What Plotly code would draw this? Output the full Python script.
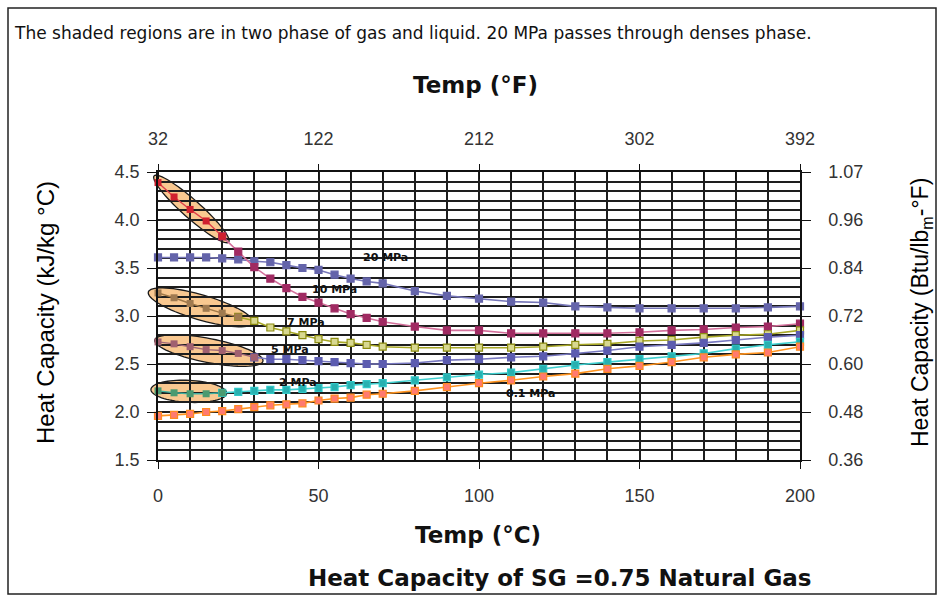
import math
import plotly.graph_objects as go

# ---------------- data ----------------
temp_c = [0, 5, 10, 15, 20, 25, 30, 35, 40, 45, 50, 55, 60, 65, 70,
          80, 90, 100, 110, 120, 130, 140, 150, 160, 170, 180, 190, 200]

cp_20mpa = [3.61, 3.61, 3.61, 3.61, 3.60, 3.59, 3.57, 3.56, 3.53, 3.50, 3.48, 3.43, 3.39, 3.36, 3.34,
            3.26, 3.21, 3.18, 3.15, 3.14, 3.10, 3.09, 3.08, 3.08, 3.08, 3.08, 3.09, 3.10]
cp_10mpa = [4.39, 4.24, 4.11, 3.99, 3.83, 3.67, 3.51, 3.39, 3.29, 3.20, 3.14, 3.08, 3.02, 2.98, 2.94,
            2.89, 2.85, 2.85, 2.82, 2.82, 2.82, 2.82, 2.83, 2.85, 2.86, 2.88, 2.89, 2.92]
cp_7mpa = [3.24, 3.19, 3.13, 3.08, 3.03, 2.99, 2.95, 2.88, 2.84, 2.80, 2.76, 2.73, 2.72, 2.70, 2.68,
           2.67, 2.67, 2.67, 2.67, 2.68, 2.70, 2.71, 2.74, 2.75, 2.78, 2.80, 2.81, 2.85]
cp_5mpa = [2.73, 2.71, 2.68, 2.65, 2.64, 2.61, 2.57, 2.55, 2.55, 2.54, 2.53, 2.52, 2.51, 2.50, 2.50,
           2.51, 2.54, 2.55, 2.57, 2.58, 2.61, 2.64, 2.68, 2.70, 2.72, 2.75, 2.78, 2.80]
cp_2mpa = [2.22, 2.20, 2.19, 2.19, 2.20, 2.21, 2.22, 2.23, 2.23, 2.24, 2.25, 2.26, 2.28, 2.29, 2.30,
           2.33, 2.36, 2.39, 2.41, 2.45, 2.49, 2.52, 2.55, 2.58, 2.61, 2.66, 2.70, 2.73]
cp_01mpa = [1.96, 1.97, 1.98, 2.00, 2.01, 2.03, 2.05, 2.07, 2.08, 2.09, 2.12, 2.14, 2.15, 2.18, 2.19,
            2.22, 2.26, 2.30, 2.33, 2.37, 2.40, 2.45, 2.48, 2.52, 2.57, 2.60, 2.62, 2.68]

# number of points inside each two-phase (shaded) region
two_phase_n = {"10 MPa": 5, "7 MPa": 6, "5 MPa": 7, "2 MPa": 5}

left_ticks = [1.5, 2.0, 2.5, 3.0, 3.5, 4.0, 4.5]
top_ticks_f = [32, 122, 212, 302, 392]
KJ_TO_BTU = 0.2388

# ---------------- layout geometry ----------------
W, H = 941, 599
PL, PR, PT, PB = 158, 800, 172, 460
XR = (0, 200)
YR = (1.5, 4.5)


def paper_x(px):
    return (px - PL) / (PR - PL)


def paper_y(py):
    return (PB - py) / (PB - PT)


def d2px(t, v):
    return (PL + (t - XR[0]) / (XR[1] - XR[0]) * (PR - PL),
            PB - (v - YR[0]) / (YR[1] - YR[0]) * (PB - PT))


def ellipse_path(p1, p2, half_w, n=72):
    x1, y1 = d2px(*p1)
    x2, y2 = d2px(*p2)
    cx, cy = (x1 + x2) / 2, (y1 + y2) / 2
    a = math.hypot(x2 - x1, y2 - y1) / 2
    ux, uy = (x2 - x1) / (2 * a), (y2 - y1) / (2 * a)
    nx, ny = -uy, ux
    pts = []
    for i in range(n):
        th = 2 * math.pi * i / n
        px = cx + a * math.cos(th) * ux + half_w * math.sin(th) * nx
        py = cy + a * math.cos(th) * uy + half_w * math.sin(th) * ny
        pts.append(f"{paper_x(px):.5f},{paper_y(py):.5f}")
    return "M " + " L ".join(pts) + " Z"


fig = go.Figure()

styles = {
    "20 MPa": dict(y=cp_20mpa, line="#7676b8", mk="#6464aa", mkl="#6464aa"),
    "10 MPa": dict(y=cp_10mpa, line="#d4709c", mk="#a02a62", mkl="#a02a62",
                   tp_line="#e0404a", tp_mk="#d0202e"),
    "7 MPa": dict(y=cp_7mpa, line="#a8a828", mk="#d8d890", mkl="#8c8c10",
                  tp_line="#a07848", tp_mk="#a07a50"),
    "5 MPa": dict(y=cp_5mpa, line="#7878c0", mk="#5c5cb0", mkl="#5c5cb0",
                  tp_line="#a06878", tp_mk="#a06070"),
    "2 MPa": dict(y=cp_2mpa, line="#40d0d0", mk="#28b0b0", mkl="#30c8c8",
                  tp_line="#40b0a0", tp_mk="#4a9a70"),
    "0.1 MPa": dict(y=cp_01mpa, line="#ff9420", mk="#ff7a70", mkl="#ff8a20"),
}

# main curves
for name, s in styles.items():
    k = two_phase_n.get(name, 1) - 1
    fig.add_trace(go.Scatter(
        x=temp_c[k:], y=s["y"][k:], mode="lines+markers", name=name,
        line=dict(color=s["line"], width=1.6),
        marker=dict(symbol="square", size=7, color=s["mk"],
                    line=dict(color=s["mkl"], width=1.2)),
        cliponaxis=False, showlegend=False))

# two-phase portions
for name, n in two_phase_n.items():
    s = styles[name]
    fig.add_trace(go.Scatter(
        x=temp_c[:n], y=s["y"][:n], mode="lines+markers", name=name + " (2-phase)",
        line=dict(color=s["tp_line"], width=1.4),
        marker=dict(symbol="square", size=7, color=s["tp_mk"]),
        cliponaxis=False, showlegend=False))

# invisible trace to carry the secondary axes (°F / Btu)
fig.add_trace(go.Scatter(
    x=[top_ticks_f[0], top_ticks_f[-1]],
    y=[YR[0] * KJ_TO_BTU, YR[1] * KJ_TO_BTU],
    xaxis="x2", yaxis="y2", mode="markers", marker=dict(opacity=0),
    hoverinfo="skip", showlegend=False))

# shaded two-phase ellipses (endpoints in data units, half-thickness in px)
ellipses = [
    ((-1.2, 4.46), (22.0, 3.77), 9.0),
    ((-3.0, 3.25), (29.6, 2.93), 12.5),
    ((-1.0, 2.75), (32.7, 2.53), 12.0),
    ((-2.2, 2.235), (21.4, 2.195), 11.0),
]
for p1, p2, hw in ellipses:
    fig.add_shape(type="path", path=ellipse_path(p1, p2, hw), xref="paper", yref="paper",
                  fillcolor="rgba(248,190,125,0.85)", line=dict(color="#1a1a1a", width=1.3),
                  layer="between")

# outer frame
fig.add_shape(type="rect", xref="paper", yref="paper",
              x0=paper_x(8), x1=paper_x(936), y0=paper_y(594), y1=paper_y(8),
              line=dict(color="#222", width=1.5), fillcolor="rgba(0,0,0,0)", layer="above")

FAM = "Liberation Sans, Arial, sans-serif"
WIDE = "DejaVu Sans, Verdana, sans-serif"
tickfont = dict(family=FAM, size=18, color="#333")

fig.update_layout(
    width=W, height=H,
    margin=dict(l=PL, r=W - PR, t=PT, b=H - PB, pad=0),
    paper_bgcolor="white", plot_bgcolor="white",
    showlegend=False,
    xaxis=dict(range=list(XR), tick0=0, dtick=50, ticks="outside", ticklen=7, tickwidth=1.2,
               tickcolor="#111", showline=True, linecolor="#111", linewidth=1.5,
               showgrid=True, gridcolor="#1e1e1e", gridwidth=2, zeroline=False,
               minor=dict(dtick=10, showgrid=True, gridcolor="#1e1e1e", gridwidth=2),
               tickfont=tickfont, ticklabelstandoff=12),
    yaxis=dict(range=list(YR), tickvals=left_ticks, ticktext=[f"{v:.1f}" for v in left_ticks],
               ticks="outside", ticklen=9, tickwidth=1.2, tickcolor="#111",
               showline=True, linecolor="#111", linewidth=1.5,
               showgrid=True, gridcolor="#1e1e1e", gridwidth=1.5, zeroline=False,
               minor=dict(dtick=0.1, tick0=1.5, showgrid=True, gridcolor="#1e1e1e", gridwidth=1.5),
               tickfont=tickfont, ticklabelstandoff=4),
    xaxis2=dict(overlaying="x", side="top", anchor="y",
                range=[top_ticks_f[0], top_ticks_f[-1]], tickvals=top_ticks_f,
                ticks="outside", ticklen=6, tickwidth=1.2, tickcolor="#111",
                showline=True, linecolor="#111", linewidth=1.5, showgrid=False, zeroline=False,
                minor=dict(tick0=32, dtick=18, ticks="inside", ticklen=7, tickcolor="#111",
                           tickwidth=1.2, showgrid=False),
                tickfont=tickfont, ticklabelstandoff=12),
    yaxis2=dict(overlaying="y", side="right", anchor="x",
                range=[YR[0] * KJ_TO_BTU, YR[1] * KJ_TO_BTU],
                tickvals=[v * KJ_TO_BTU for v in left_ticks],
                ticktext=[f"{v * KJ_TO_BTU:.2f}" for v in left_ticks],
                ticks="outside", ticklen=9, tickwidth=1.2, tickcolor="#111",
                showline=True, linecolor="#111", linewidth=1.5, showgrid=False, zeroline=False,
                tickfont=tickfont, ticklabelstandoff=14),
)

# texts
texts = [
    ("The shaded regions are in two phase of gas and liquid. 20 MPa passes through denses phase.",
     12, 33, "left", dict(family=WIDE, size=17, color="#111"), 0),
    ("<b>Temp (°F)</b>", 475, 85, "center", dict(family=WIDE, size=23, color="#111"), 0),
    ("<b>Temp (°C)</b>", 478, 535, "center", dict(family=WIDE, size=23, color="#111"), 0),
    ("<b>Heat Capacity of SG =0.75 Natural Gas</b>", 560, 578, "center",
     dict(family=WIDE, size=23, color="#111"), 0),
    ("Heat Capacity (kJ/kg °C)", 45, 313, "center", dict(family=FAM, size=24, color="#000"), -90),
    ("Heat Capacity (Btu/lb<sub>m</sub>-°F)", 921, 313, "center",
     dict(family=FAM, size=23, color="#000"), -90),
]
for txt, px, py, anchor, font, ang in texts:
    fig.add_annotation(text=txt, x=paper_x(px), y=paper_y(py), xref="paper", yref="paper",
                       xanchor=anchor, yanchor="middle", showarrow=False, font=font,
                       textangle=ang)

# in-plot series labels (positions in data units)
series_labels = [("20 MPa", 71, 3.61), ("10 MPa", 55, 3.28), ("7 MPa", 46, 2.93),
                 ("5 MPa", 41, 2.65), ("2 MPa", 43.5, 2.31), ("0.1 MPa", 116, 2.19)]
for txt, tx, ty in series_labels:
    fig.add_annotation(text=f"<b>{txt}</b>", x=tx, y=ty, xref="x", yref="y", showarrow=False,
                       font=dict(family=WIDE, size=11, color="#111"))

fig.write_html("out.html")
